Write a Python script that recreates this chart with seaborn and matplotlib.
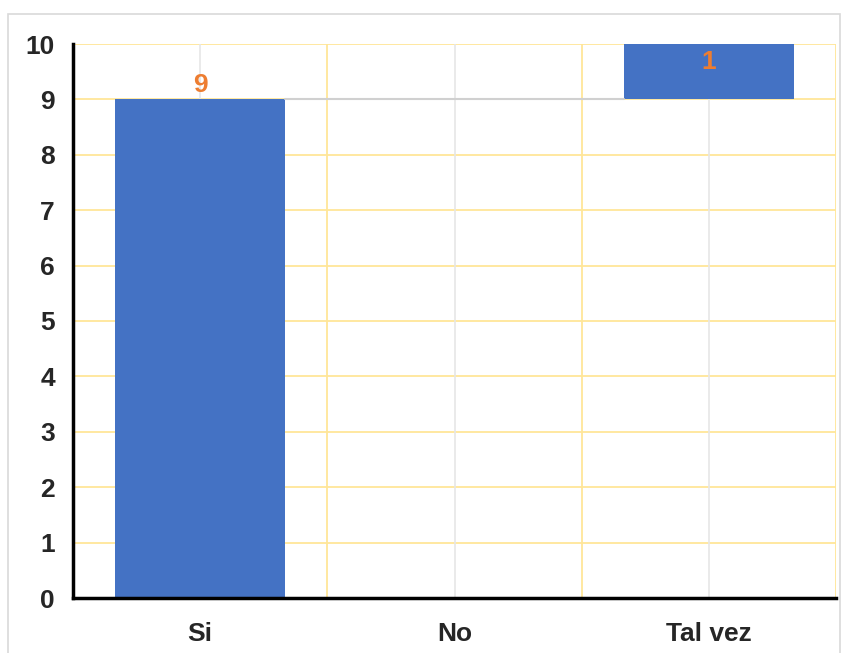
import numpy as np
import matplotlib as mpl
mpl.use('Agg')
import matplotlib.pyplot as plt
import seaborn as sns

# datos del gráfico (cascada)
categorias = ["Si", "No", "Tal vez"]
valores = [9, 0, 1]
base = [0, 9, 9]
etiquetas = ["9", "", "1"]

azul = "#4472C4"
naranja = "#ED7D31"
amarillo = "#FFE699"
gris = "#E6E6E6"

sns.set_theme(style="white")
plt.rcParams['font.family'] = ['Liberation Sans', 'DejaVu Sans']

fig = plt.figure(figsize=(8.41, 6.53), dpi=100)
ax = fig.add_axes([73/841, 1-598/653, (836-73)/841, (598-44)/653])

# borde gris de la figura
fig.patches.append(mpl.patches.Rectangle((8/841, -0.05), 832/841, 1.05-14/653,
                                         transform=fig.transFigure, fill=False,
                                         edgecolor="#D9D9D9", lw=1.2, zorder=0))

ancho = 0.67
sns.barplot(x=categorias, y=valores, bottom=base, color=azul, width=ancho,
            saturation=1, linewidth=0, ax=ax, zorder=3)

# rejilla
for y in range(0, 11):
    ax.axhline(y, color=amarillo, lw=1.3, zorder=1)
for i in range(len(categorias)):
    ax.axvline(i, color=gris, lw=1.2, zorder=1)
    ax.axvline(i + 0.5, color=amarillo, lw=1.3, zorder=1)

# línea conectora
ax.plot([0 + ancho/2, 2 - ancho/2], [base[0] + valores[0]] * 2, color="#D0D0D0", lw=1.5, zorder=4)

# etiquetas de datos
for i, (b, v, t) in enumerate(zip(base, valores, etiquetas)):
    if not t:
        continue
    if i == 0:
        ax.annotate(t, (i, b + v), xytext=(0, 2), textcoords="offset points",
                    ha="center", va="bottom", color=naranja, fontsize=19, fontweight="bold", zorder=5)
    else:
        ax.annotate(t, (i, b + v), xytext=(0, -4), textcoords="offset points",
                    ha="center", va="top", color=naranja, fontsize=19, fontweight="bold", zorder=5)

ax.set_xlim(-0.5, 2.5)
ax.set_ylim(0, 10)
ax.set_yticks(range(0, 11))
ax.tick_params(axis="y", length=0, pad=13, labelsize=19)
ax.tick_params(axis="x", length=0, pad=17, labelsize=19)
for lab in ax.get_xticklabels() + ax.get_yticklabels():
    lab.set_fontweight("bold")
ax.set_xlabel("")
ax.set_ylabel("")

for s in ["top", "right"]:
    ax.spines[s].set_visible(False)
for s in ["left", "bottom"]:
    ax.spines[s].set_color("black")
    ax.spines[s].set_linewidth(2.5)
    ax.spines[s].set_zorder(6)

plt.savefig("out.png", dpi=100)
